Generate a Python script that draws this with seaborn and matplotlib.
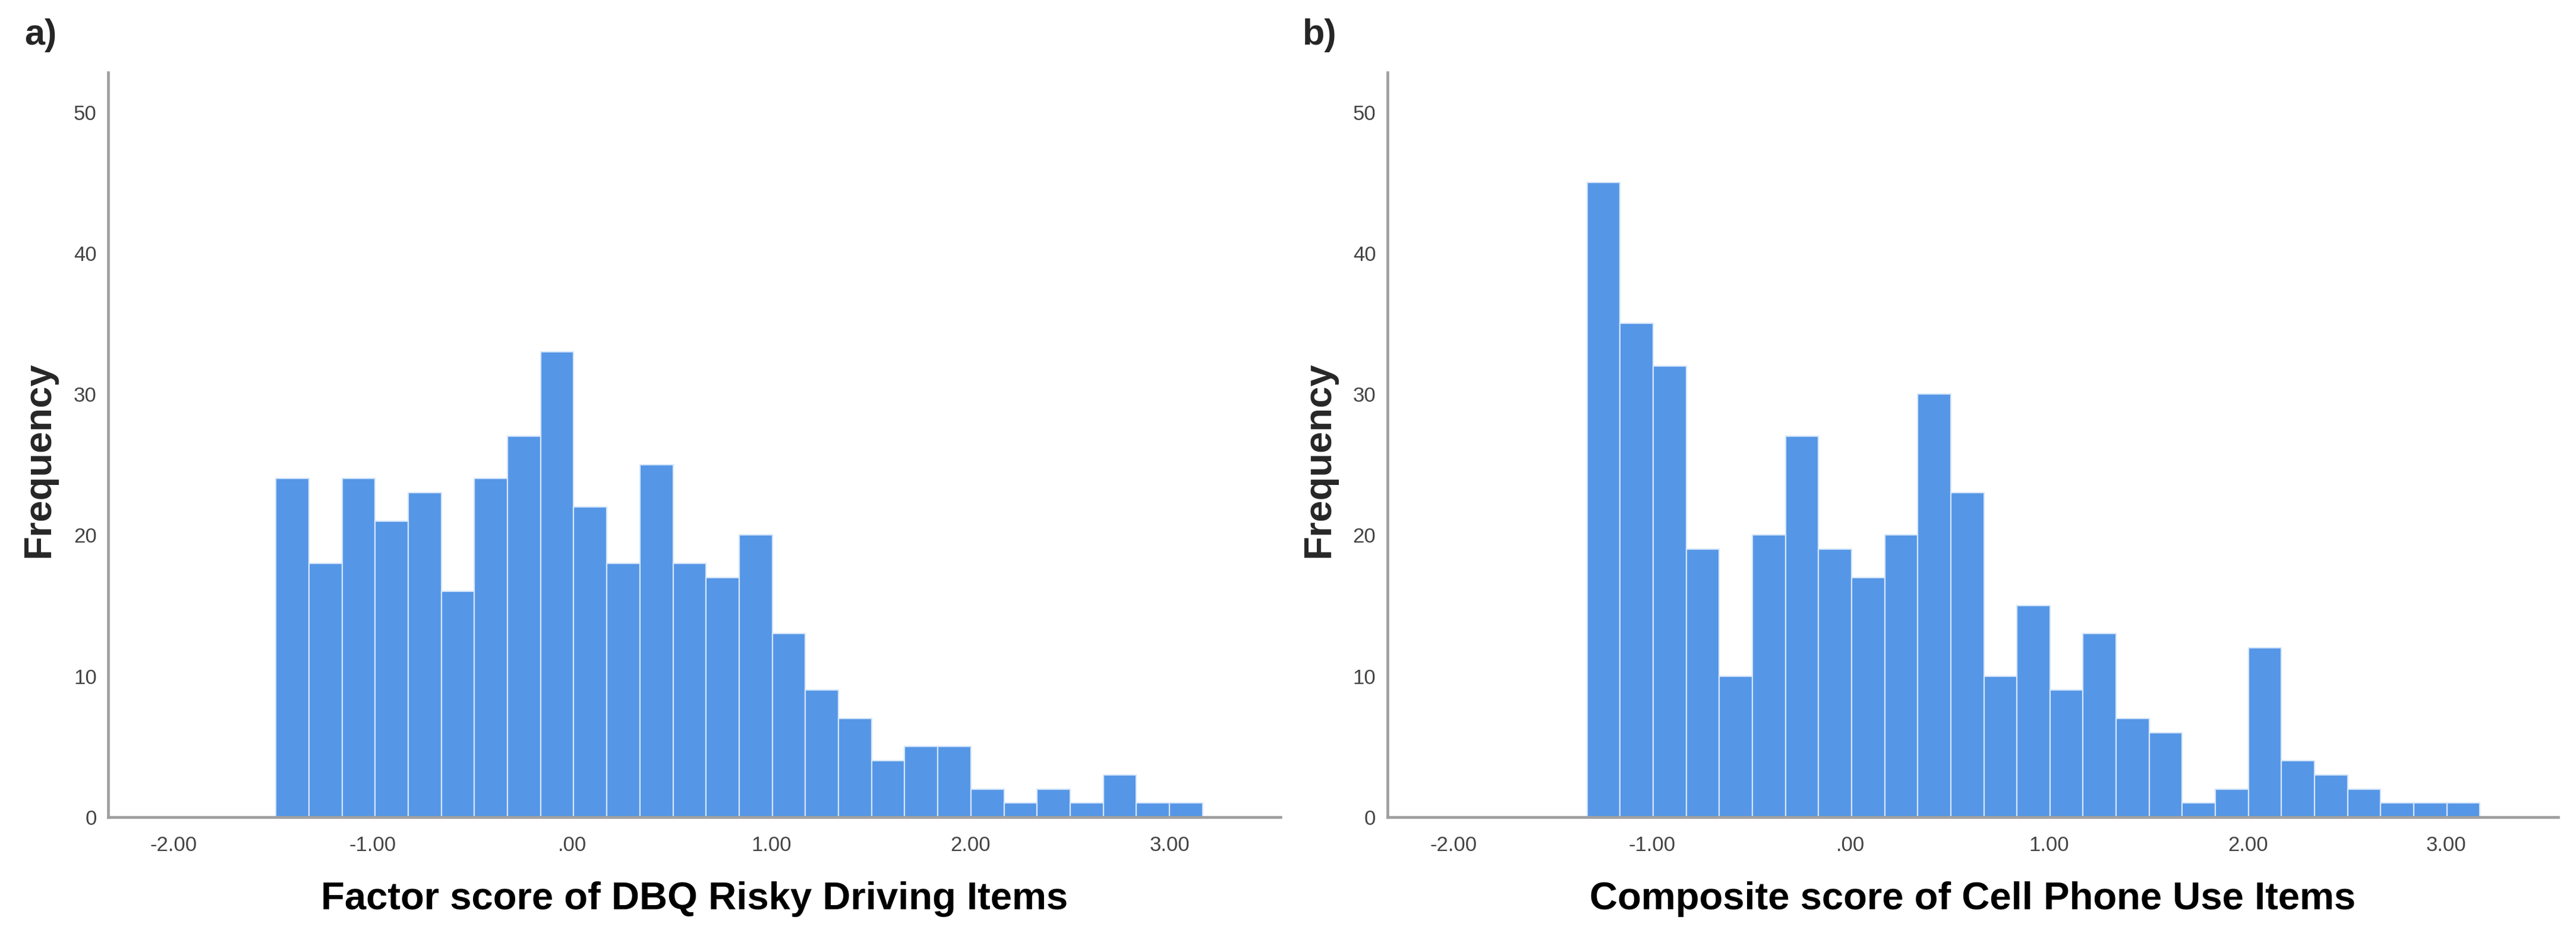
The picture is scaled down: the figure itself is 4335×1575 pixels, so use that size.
import numpy as np
import pandas as pd
import matplotlib
matplotlib.use('Agg')
import matplotlib.pyplot as plt
import seaborn as sns


# data
counts_a = [24, 18, 24, 21, 23, 16, 24, 27, 33, 22, 18, 25, 18, 17,
            20, 13, 9, 7, 4, 5, 5, 2, 1, 2, 1, 3, 1, 1]
bin_start_a = -1.487
bin_width_a = 0.1661

counts_b = [45, 35, 32, 19, 10, 20, 27, 19, 17, 20, 30, 23, 10, 15,
            9, 13, 7, 6, 1, 2, 12, 4, 3, 2, 1, 1, 1]
bin_start_b = -1.327
bin_width_b = 0.1665

x_ticks = [-2, -1, 0, 1, 2, 3]
x_tick_labels = ['-2.00', '-1.00', '.00', '1.00', '2.00', '3.00']
y_ticks = [0, 10, 20, 30, 40, 50]

xlabel_a = 'Factor score of DBQ Risky Driving Items'
xlabel_b = 'Composite score of Cell Phone Use Items'
panel_a = 'a)'
panel_b = 'b)'


sns.set_style('white')
plt.rcParams['font.family'] = ['Liberation Sans Narrow', 'Liberation Sans', 'DejaVu Sans']

bar_color = '#5596E6'
edge_color = '#d6e6fa'
axis_color = '#a0a0a0'
tick_color = '#444444'

fig = plt.figure(figsize=(43.35, 15.75), dpi=100)
ax_a = fig.add_axes([0.0420, 0.127, 0.4551, 0.7955])
ax_b = fig.add_axes([0.5386, 0.127, 0.4545, 0.7955])


def make_frame(counts, start, width):
    edges = start + width * np.arange(len(counts) + 1)
    centers = (edges[:-1] + edges[1:]) / 2
    return pd.DataFrame({'score': centers, 'freq': counts}), [float(e) for e in edges]


panels = [
    (ax_a, counts_a, bin_start_a, bin_width_a, xlabel_a, (-2.328, 3.555)),
    (ax_b, counts_b, bin_start_b, bin_width_b, xlabel_b, (-2.332, 3.563)),
]

for ax, counts, start, width, xlabel, xlim in panels:
    df, edges = make_frame(counts, start, width)
    sns.histplot(data=df, x='score', weights='freq', bins=edges, ax=ax,
                 color=bar_color, alpha=1, edgecolor=edge_color, linewidth=1.6)

    ax.set_xlim(*xlim)
    ax.set_ylim(0, 52.8)
    ax.set_xticks(x_ticks)
    ax.set_xticklabels(x_tick_labels)
    ax.set_yticks(y_ticks)
    ax.tick_params(axis='both', length=0, labelsize=25, colors=tick_color)
    ax.tick_params(axis='x', pad=22)
    ax.tick_params(axis='y', pad=14)

    for side in ['top', 'right']:
        ax.spines[side].set_visible(False)
    for side in ['left', 'bottom']:
        ax.spines[side].set_color(axis_color)
        ax.spines[side].set_linewidth(3.4)

    ax.set_xlabel(xlabel, fontsize=47, fontweight='bold', color='black', labelpad=32)
    ax.set_ylabel('')

# y labels are in the wider bold face
fig.text(0.0152, 0.509, 'Frequency', rotation=90, ha='center', va='center',
         fontsize=47, fontweight='bold', family=['Liberation Sans', 'DejaVu Sans'])
fig.text(0.5120, 0.509, 'Frequency', rotation=90, ha='center', va='center',
         fontsize=47, fontweight='bold', family=['Liberation Sans', 'DejaVu Sans'])

fig.text(0.0095, 0.962, panel_a, ha='left', va='center', fontsize=44, fontweight='bold')
fig.text(0.5057, 0.962, panel_b, ha='left', va='center', fontsize=44, fontweight='bold')

fig.savefig('out.png', dpi=100, facecolor='white')
